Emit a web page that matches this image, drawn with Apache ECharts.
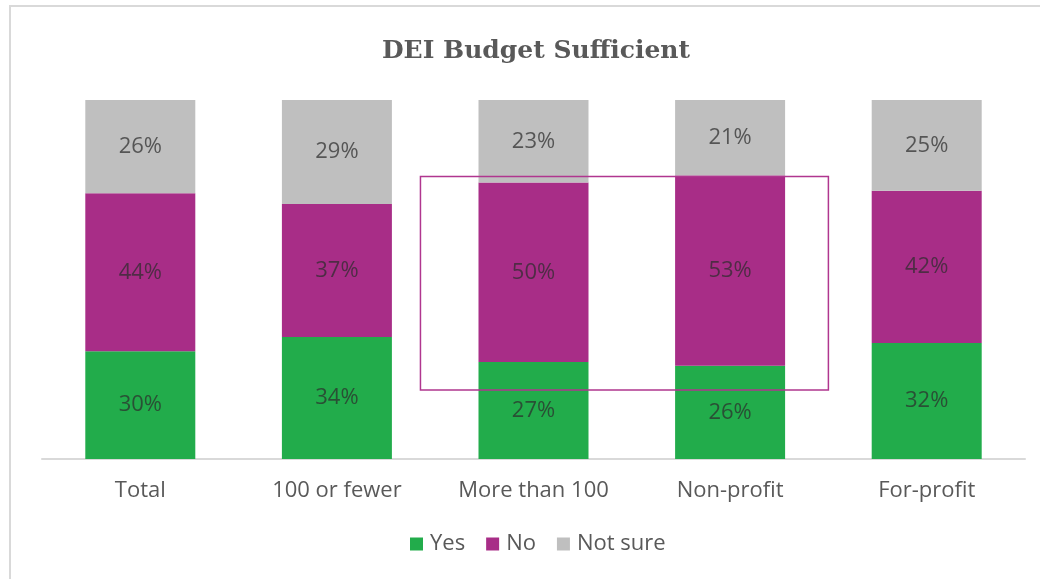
<!DOCTYPE html>
<html>
<head>
<meta charset="utf-8">
<title>DEI Budget Sufficient</title>
<script src="https://cdn.jsdelivr.net/npm/echarts@6/dist/echarts.min.js"></script>
<style>
  html, body { margin: 0; padding: 0; background: #ffffff; }
  #chart { width: 1040px; height: 579px; }
</style>
</head>
<body>
<div id="chart"></div>
<script>
// Survey answers by organisation group (percent of respondents)
const categories = ['Total', '100 or fewer', 'More than 100', 'Non-profit', 'For-profit'];
const yesValues = [30, 34, 27, 26, 32];
const noValues = [44, 37, 50, 53, 42];
const notSureValues = [26, 29, 23, 21, 25];

// Groups outlined for emphasis (first and last category index of the box)
const highlightFrom = 2;
const highlightTo = 3;

// 100% stacked: each bar is scaled to its own total; labels keep the stated percent
const totals = categories.map((_, i) => yesValues[i] + noValues[i] + notSureValues[i]);
function shares(values) {
  return values.map((v, i) => ({ value: v / totals[i] * 100, stated: v }));
}

const labelStyle = {
  show: true,
  position: 'inside',
  formatter: p => p.data.stated + '%',
  color: 'rgba(45,45,45,0.72)',
  fontFamily: 'Open Sans',
  fontSize: 22
};

function series(name, values, color) {
  return {
    name: name,
    type: 'bar',
    stack: 'answers',
    data: shares(values),
    barWidth: 110,
    itemStyle: { color: color },
    label: labelStyle,
    emphasis: { disabled: true }
  };
}

const chart = echarts.init(document.getElementById('chart'), null, { renderer: 'canvas' });

chart.setOption({
  backgroundColor: '#ffffff',
  animation: false,
  title: {
    text: 'DEI Budget Sufficient',
    left: 531,
    textAlign: 'center',
    top: 34,
    textStyle: {
      fontFamily: 'DejaVu Serif',
      fontWeight: 'bold',
      fontSize: 25,
      color: '#595959'
    }
  },
  grid: { left: 42, right: 15, top: 100, bottom: 120, containLabel: false },
  xAxis: {
    type: 'category',
    data: categories,
    axisLine: { lineStyle: { color: '#d9d9d9', width: 2 } },
    axisTick: { show: false },
    axisLabel: {
      color: '#595959',
      fontFamily: 'Open Sans',
      fontSize: 22,
      margin: 21
    }
  },
  yAxis: {
    type: 'value',
    min: 0,
    max: 100,
    show: false,
    splitLine: { show: false }
  },
  legend: {
    bottom: 19,
    left: 405,
    icon: 'rect',
    itemWidth: 13,
    itemHeight: 13,
    itemGap: 21,
    textStyle: {
      color: '#595959',
      fontFamily: 'Open Sans',
      fontSize: 22,
      padding: [0, 0, 0, 2]
    },
    data: ['Yes', 'No', 'Not sure']
  },
  series: [
    series('Yes', yesValues, '#22ac4b'),
    series('No', noValues, '#a82d87'),
    series('Not sure', notSureValues, '#bfbfbf')
  ]
});

// Frame line along the top and left edges, and the emphasis box
const leftCenter = chart.convertToPixel({ gridIndex: 0 }, [highlightFrom, 0]);
const rightCenter = chart.convertToPixel({ gridIndex: 0 }, [highlightTo, 0]);
const band = (rightCenter[0] - leftCenter[0]) / (highlightTo - highlightFrom);
const boxTop = chart.convertToPixel({ gridIndex: 0 }, [highlightFrom, 78.7])[1];
const boxBottom = chart.convertToPixel({ gridIndex: 0 }, [highlightFrom, 19.2])[1];
const boxLeft = leftCenter[0] - 0.575 * band;
const boxRight = rightCenter[0] + 0.5 * band;

chart.setOption({
  graphic: [
    {
      type: 'polyline',
      silent: true,
      shape: { points: [[10, 579], [10, 6], [1040, 6]] },
      style: { stroke: '#d9d9d9', lineWidth: 2, fill: null }
    },
    {
      type: 'rect',
      silent: true,
      z: 100,
      shape: { x: boxLeft, y: boxTop, width: boxRight - boxLeft, height: boxBottom - boxTop },
      style: { stroke: '#b0368f', lineWidth: 1.5, fill: null }
    }
  ]
});
</script>
</body>
</html>
